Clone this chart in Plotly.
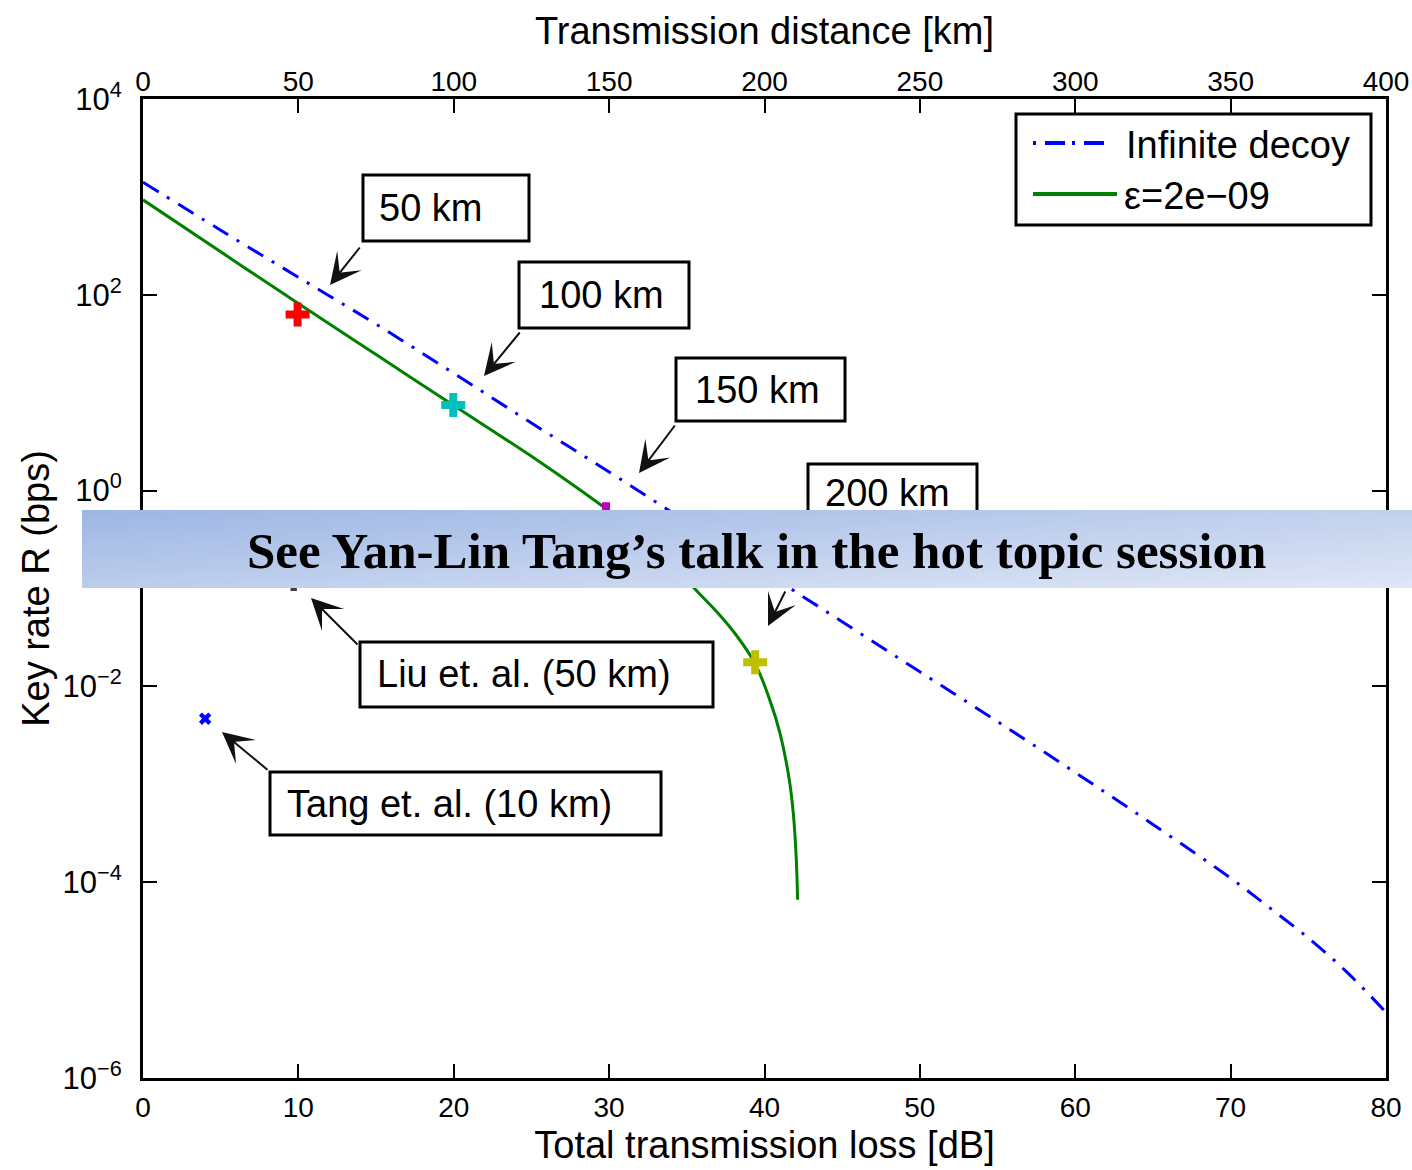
import base64, struct, zlib
import plotly.graph_objects as go

# ---------------- data ----------------
decoy_loss_db = [0, 5, 10, 15, 20, 25, 30, 35, 40, 45, 50, 55, 60, 65, 70, 72.5, 75, 77.5, 80]
decoy_rate_bps = [1413, 457, 151, 50.1, 15.8, 4.90, 1.55, 0.479, 0.148, 0.0457,
                  0.0141, 0.00437, 0.00132, 3.89e-4, 1.10e-4, 5.50e-5, 2.69e-5,
                  1.20e-5, 4.68e-6]

finite_loss_db = [0, 5, 10, 15, 20, 25, 28, 30, 32, 34, 35.8, 37, 38.2, 39.4,
                  40.3, 41.0, 41.6, 41.85, 42.05, 42.13]
finite_rate_bps = [933, 275, 81.3, 24.5, 7.41, 2.24, 1.05, 0.617, 0.347, 0.178,
                   0.0891, 0.0562, 0.0331, 0.0170, 0.00759, 0.00331, 0.00110,
                   5.13e-4, 1.66e-4, 6.61e-5]

point_loss_db = [9.95, 19.97, 29.8, 39.4]
point_rate_bps = [63.1, 7.48, 0.575, 0.0176]
point_colors = ["#ff0000", "#00bfbf", "#bf00bf", "#bfbf00"]

liu_loss_db, liu_rate_bps = [9.7], [0.118]
tang_loss_db, tang_rate_bps = [4.0], [0.00468]

x_ticks_db = [0, 10, 20, 30, 40, 50, 60, 70, 80]
x_ticks_km = [0, 50, 100, 150, 200, 250, 300, 350, 400]
y_tick_vals = [1e-6, 1e-4, 1e-2, 1e0, 1e2, 1e4]
y_tick_text = ["10<sup>−6</sup>", "10<sup>−4</sup>", "10<sup>−2</sup>",
               "10<sup>0</sup>", "10<sup>2</sup>", "10<sup>4</sup>"]

# ---------------- geometry helpers (plot area in pixels) ----------------
W, H = 1412, 1170
L, R, T, B = 143, 1386, 99, 1078


def px(xp):
    return (xp - L) / (R - L)


def py(yp):
    return (B - yp) / (B - T)


SANS = "Liberation Sans, Arial, sans-serif"

fig = go.Figure()

fig.add_trace(go.Scatter(
    x=decoy_loss_db, y=decoy_rate_bps, mode="lines", name="Infinite decoy",
    line=dict(color="#0000ff", width=3, dash="18px,10px,3px,10px"),
    line_shape="spline"))
fig.add_trace(go.Scatter(
    x=finite_loss_db, y=finite_rate_bps, mode="lines", name="ε=2e−09",
    line=dict(color="#008000", width=3), line_shape="spline"))
fig.add_trace(go.Scatter(
    x=liu_loss_db, y=liu_rate_bps, mode="markers",
    marker=dict(symbol="cross", size=16, color="#404040")))
fig.add_trace(go.Scatter(
    x=point_loss_db, y=point_rate_bps, mode="markers",
    marker=dict(symbol="cross", size=20, color=point_colors)))
fig.add_trace(go.Scatter(
    x=tang_loss_db, y=tang_rate_bps, mode="markers",
    marker=dict(symbol="x", size=11, color="#0000ff")))
# carrier for the top distance axis
fig.add_trace(go.Scatter(
    x=[x_ticks_km[0], x_ticks_km[-1]], y=[1, 1], xaxis="x2", mode="markers",
    marker=dict(opacity=0), hoverinfo="skip"))

axis_common = dict(showline=True, linewidth=3, linecolor="black",
                   ticks="inside", ticklen=14, tickwidth=2, tickcolor="black",
                   showgrid=False, zeroline=False)
tick_font = dict(family=SANS, size=28, color="black")
title_font = dict(family=SANS, size=38, color="black")

fig.update_layout(
    width=W, height=H, template="none", showlegend=False,
    paper_bgcolor="white", plot_bgcolor="white",
    margin=dict(l=L, r=W - R, t=T, b=H - B),
    xaxis=dict(range=[0, 80], tickvals=x_ticks_db, mirror=False,
               tickfont=tick_font, ticklabelstandoff=2,
               title=dict(text="Total transmission loss [dB]", standoff=10,
                          font=title_font),
               **axis_common),
    xaxis2=dict(range=[0, 400], tickvals=x_ticks_km, overlaying="x", side="top",
                anchor="y", tickfont=tick_font, ticklabelstandoff=-6,
                title=dict(text="Transmission distance [km]", standoff=10,
                           font=title_font),
                **axis_common),
    yaxis=dict(type="log", range=[-6, 4], tickvals=y_tick_vals,
               ticktext=y_tick_text, mirror="ticks",
               tickfont=dict(family=SANS, size=31, color="black"),
               ticklabelstandoff=12,
               title=dict(text="Key rate R (bps)", standoff=2,
                          font=title_font),
               **axis_common),
)

# ---------------- annotation boxes ----------------
boxes = [
    # (x0, y0, x1, y1, text, text_x, layer)
    (363, 175, 529, 241, "50 km", 377, "above"),
    (519, 262, 689, 328, "100 km", 537, "above"),
    (676, 358, 845, 421, "150 km", 693, "above"),
    (808, 464, 977, 528, "200 km", 823, "below"),
    (360, 642, 713, 707, "Liu et. al. (50 km)", 375, "above"),
    (270, 772, 661, 835, "Tang et. al. (10 km)", 285, "above"),
]
for x0, y0, x1, y1, txt, tx, layer in boxes:
    fig.add_shape(type="rect", xref="paper", yref="paper",
                  x0=px(x0), x1=px(x1), y0=py(y0), y1=py(y1),
                  line=dict(color="black", width=3), fillcolor="white",
                  layer=layer)
    ty = (y0 + y1) / 2 if layer == "above" else 493
    fig.add_annotation(xref="paper", yref="paper", x=px(tx), y=py(ty),
                       xanchor="left", yanchor="middle", text=txt,
                       showarrow=False,
                       font=dict(family=SANS, size=38, color="black"))

arrows = [  # (tail_x, tail_y, head_x, head_y)
    (361, 246, 330, 285),
    (521, 331, 484, 376),
    (676, 424, 639, 473),
    (786, 590, 768, 626),
    (359, 646, 311, 598),
    (269, 771, 222, 732),
]
for tx, ty, hx, hy in arrows:
    fig.add_annotation(xref="paper", yref="paper", x=px(hx), y=py(hy),
                       axref="pixel", ayref="pixel", ax=tx - hx, ay=ty - hy,
                       text="", showarrow=True, arrowhead=3, arrowsize=2.6,
                       arrowwidth=2, arrowcolor="#111111", standoff=0)

# ---------------- legend (drawn) ----------------
fig.add_shape(type="rect", xref="paper", yref="paper",
              x0=px(1016), x1=px(1371), y0=py(114), y1=py(225),
              line=dict(color="black", width=3), fillcolor="white", layer="above")
fig.add_shape(type="line", xref="paper", yref="paper",
              x0=px(1033), x1=px(1106), y0=py(143), y1=py(143),
              line=dict(color="#0000ff", width=4, dash="3px,9px,20px,7px"),
              layer="above")
fig.add_shape(type="line", xref="paper", yref="paper",
              x0=px(1033), x1=px(1117), y0=py(194), y1=py(194),
              line=dict(color="#008000", width=4), layer="above")
fig.add_annotation(xref="paper", yref="paper", x=px(1124), y=py(145),
                   xanchor="left", yanchor="middle", text="Infinite decoy",
                   showarrow=False, font=dict(family=SANS, size=38, color="black"))
fig.add_annotation(xref="paper", yref="paper", x=px(1122), y=py(196),
                   xanchor="left", yanchor="middle", text="ε=2e−09",
                   showarrow=False, font=dict(family=SANS, size=38, color="black"))


# ---------------- banner ----------------
def gradient_png(w, h, c0, c1):
    raw = bytearray()
    for j in range(h):
        v = j / (h - 1)
        raw.append(0)
        for i in range(w):
            u = i / (w - 1)
            t = 0.55 * u + 0.45 * v
            for k in range(3):
                raw.append(int(round(c0[k] + (c1[k] - c0[k]) * t)))

    def chunk(tag, data):
        return (struct.pack(">I", len(data)) + tag + data
                + struct.pack(">I", zlib.crc32(tag + data) & 0xffffffff))

    png = (b"\x89PNG\r\n\x1a\n"
           + chunk(b"IHDR", struct.pack(">IIBBBBB", w, h, 8, 2, 0, 0, 0))
           + chunk(b"IDAT", zlib.compress(bytes(raw)))
           + chunk(b"IEND", b""))
    return "data:image/png;base64," + base64.b64encode(png).decode()


fig.add_layout_image(
    source=gradient_png(200, 24, (158, 183, 228), (224, 231, 246)),
    xref="paper", yref="paper", x=px(82), y=py(510),
    sizex=px(1412) - px(82), sizey=py(510) - py(588),
    xanchor="left", yanchor="top", sizing="stretch", layer="above", opacity=1)
fig.add_annotation(xref="paper", yref="paper", x=px(756), y=py(551),
                   xanchor="center", yanchor="middle",
                   text="<b>See Yan-Lin Tang’s talk in the hot topic session</b>",
                   showarrow=False,
                   font=dict(family="Liberation Serif, Times New Roman, serif",
                             size=51, color="black"))

fig.write_html("out.html", config={"displayModeBar": False},
               post_script="document.body.style.margin='0';")
